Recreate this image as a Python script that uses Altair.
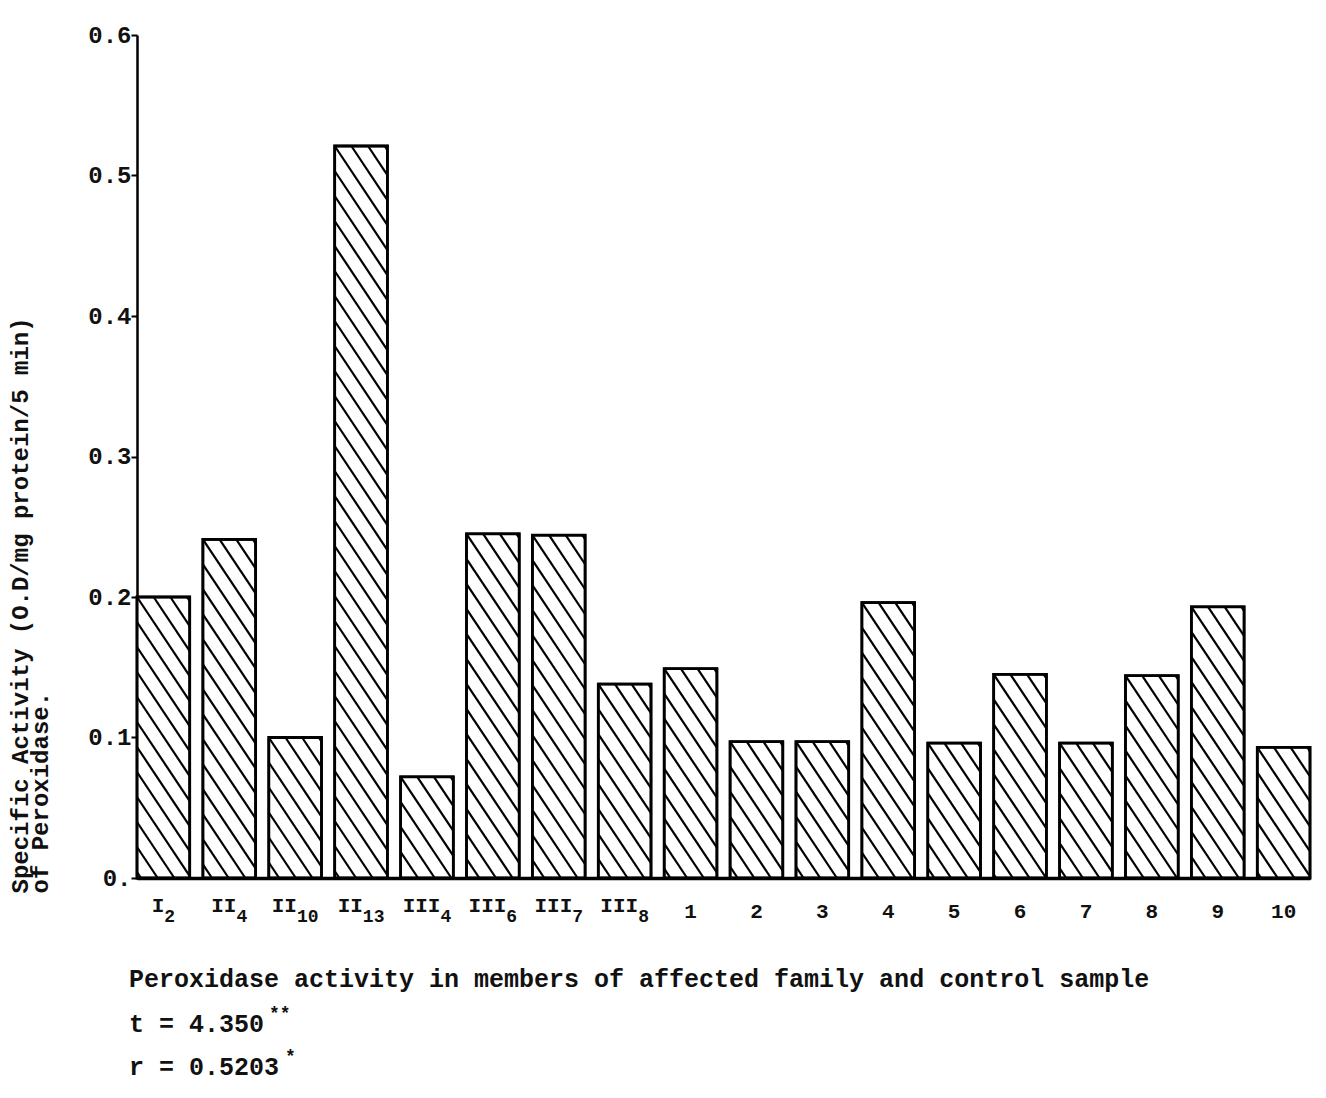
import math
import pandas as pd
import altair as alt

# ---------------- data ----------------
label_main = ["I", "II", "II", "II", "III", "III", "III", "III",
              "1", "2", "3", "4", "5", "6", "7", "8", "9", "10"]
label_sub = ["2", "4", "10", "13", "4", "6", "7", "8",
             "", "", "", "", "", "", "", "", "", ""]
values = [0.200, 0.241, 0.100, 0.521, 0.072, 0.245, 0.244, 0.138, 0.149,
          0.097, 0.097, 0.196, 0.096, 0.145, 0.096, 0.144, 0.193, 0.093]
y_ticks = [0.0, 0.1, 0.2, 0.3, 0.4, 0.5, 0.6]
y_title = ["Specific Activity (O.D/mg protein/5 min)", "of Peroxidase."]
x_title = "Peroxidase activity in members of affected family and control sample"
stat_t = "t = 4.350"
stat_r = "r = 0.5203"

# ---------------- layout ----------------
W, H = 1173, 843
XMIN, XMAX = -0.4, 17.4
YMAX = 0.6
HALF = 0.4
FONT = "Liberation Mono"
MAIN_FS, SUB_FS = 21, 18
CW = 0.6  # monospace advance per em

xs = alt.Scale(domain=[XMIN, XMAX], nice=False, zero=False)
ys = alt.Scale(domain=[0, YMAX], nice=False, zero=False)
PX_PER_UNIT = W / (XMAX - XMIN)

idx = list(range(len(values)))
bars_df = pd.DataFrame({
    "x0": [i - HALF for i in idx],
    "x1": [i + HALF for i in idx],
    "zero": [0.0] * len(idx),
    "value": values,
})

# category labels: main part + subscript, centred under each bar
lab_rows = []
for i, mn, sb in zip(idx, label_main, label_sub):
    wm = len(mn) * CW * MAIN_FS
    wsub = len(sb) * CW * SUB_FS
    start = i - (wm + wsub) / 2 / PX_PER_UNIT
    lab_rows.append({"xm": start, "main": mn,
                     "xs": start + wm / PX_PER_UNIT, "sub": sb,
                     "roman": sb != ""})
lab_df = pd.DataFrame(lab_rows)

# hatch lines (computed in pixel space, converted back to data units)
def px_x(v):
    return (v - XMIN) / (XMAX - XMIN) * W

def to_dx(p):
    return XMIN + p / W * (XMAX - XMIN)

def to_dy(p):
    return YMAX * (1 - p / H)

m = 1.5    # slope (down-right)
d = 25.0   # vertical spacing in px
rows = []
for i, v in zip(idx, values):
    xl, xr = px_x(i - HALF), px_x(i + HALF)
    yt, yb = H * (1 - v / YMAX), H
    w = xr - xl
    k = -math.ceil(m * w / d)
    while True:
        c = yt + k * d
        if c > yb:
            break
        xa = max(xl, xl + (yt - c) / m)
        xb = min(xr, xl + (yb - c) / m)
        if xb - xa > 1.5:
            ya = c + m * (xa - xl)
            yb2 = c + m * (xb - xl)
            rows.append({"hx1": to_dx(xa), "hx2": to_dx(xb),
                         "hy1": to_dy(ya), "hy2": to_dy(yb2)})
        k += 1
hatch_df = pd.DataFrame(rows)

y_label_expr = "datum.value == 0 ? '0.' : format(datum.value, '.1f')"

x_axis = alt.Axis(values=idx, labels=False, ticks=False, grid=False,
                  domainColor="black", domainWidth=3.5, title=None)
y_axis = alt.Axis(values=y_ticks, labelExpr=y_label_expr, grid=False,
                  domainColor="black", domainWidth=2.5, tickColor="black",
                  tickSize=6, tickWidth=2, labelFont=FONT, labelFontSize=24,
                  labelFontWeight="bold", labelColor="#111", labelPadding=0,
                  title=y_title, titleFont=FONT, titleFontSize=24,
                  titleFontWeight="bold", titleColor="#111", titleAngle=270,
                  titleAlign="left", titleBaseline="top", titleX=-129,
                  titleY=858, titleLineHeight=20)

bars = alt.Chart(bars_df).mark_rect(fill="white", stroke="black", strokeWidth=2.5).encode(
    x=alt.X("x0:Q", scale=xs, axis=x_axis),
    x2="x1:Q",
    y=alt.Y("zero:Q", scale=ys, axis=y_axis),
    y2="value:Q",
)

hatch = alt.Chart(hatch_df).mark_rule(stroke="black", strokeWidth=2.2).encode(
    x=alt.X("hx1:Q", scale=xs),
    x2="hx2:Q",
    y=alt.Y("hy1:Q", scale=ys),
    y2="hy2:Q",
)

outline = alt.Chart(bars_df).mark_rect(fillOpacity=0, stroke="black", strokeWidth=2.8).encode(
    x=alt.X("x0:Q", scale=xs),
    x2="x1:Q",
    y=alt.Y("zero:Q", scale=ys),
    y2="value:Q",
)

roman_main = alt.Chart(lab_df).transform_filter("datum.roman").mark_text(
    align="left", baseline="alphabetic", font=FONT, fontSize=MAIN_FS,
    fontWeight="bold", color="#111"
).encode(x=alt.X("xm:Q", scale=xs), y=alt.value(877), text="main:N")

num_main = alt.Chart(lab_df).transform_filter("!datum.roman").mark_text(
    align="left", baseline="alphabetic", font=FONT, fontSize=MAIN_FS,
    fontWeight="bold", color="#111"
).encode(x=alt.X("xm:Q", scale=xs), y=alt.value(883), text="main:N")

subs = alt.Chart(lab_df).transform_filter("datum.roman").mark_text(
    align="left", baseline="alphabetic", font=FONT, fontSize=SUB_FS,
    fontWeight="bold", color="#111"
).encode(x=alt.X("xs:Q", scale=xs), y=alt.value(887), text="sub:N")

def txt(s, x, y, size=25):
    return alt.Chart(pd.DataFrame({"t": [s]})).mark_text(
        align="left", baseline="alphabetic", font=FONT, fontSize=size,
        fontWeight="bold", color="#111"
    ).encode(x=alt.value(x), y=alt.value(y), text="t:N")

annotations = [
    txt(x_title, -8, 952),
    txt(stat_t, -8, 997),
    txt("**", 132, 984, 18),
    txt(stat_r, -8, 1040),
    txt("*", 148, 1027, 18),
]

chart = alt.layer(bars, hatch, outline, roman_main, num_main, subs, *annotations).properties(
    width=W, height=H,
    autosize=alt.AutoSizeParams(type="none"),
    padding={"left": 129, "top": 27, "right": 5, "bottom": 210},
    background="white",
).configure_view(stroke=None)

chart.save("out.html", embed_options={"renderer": "svg", "actions": False})
